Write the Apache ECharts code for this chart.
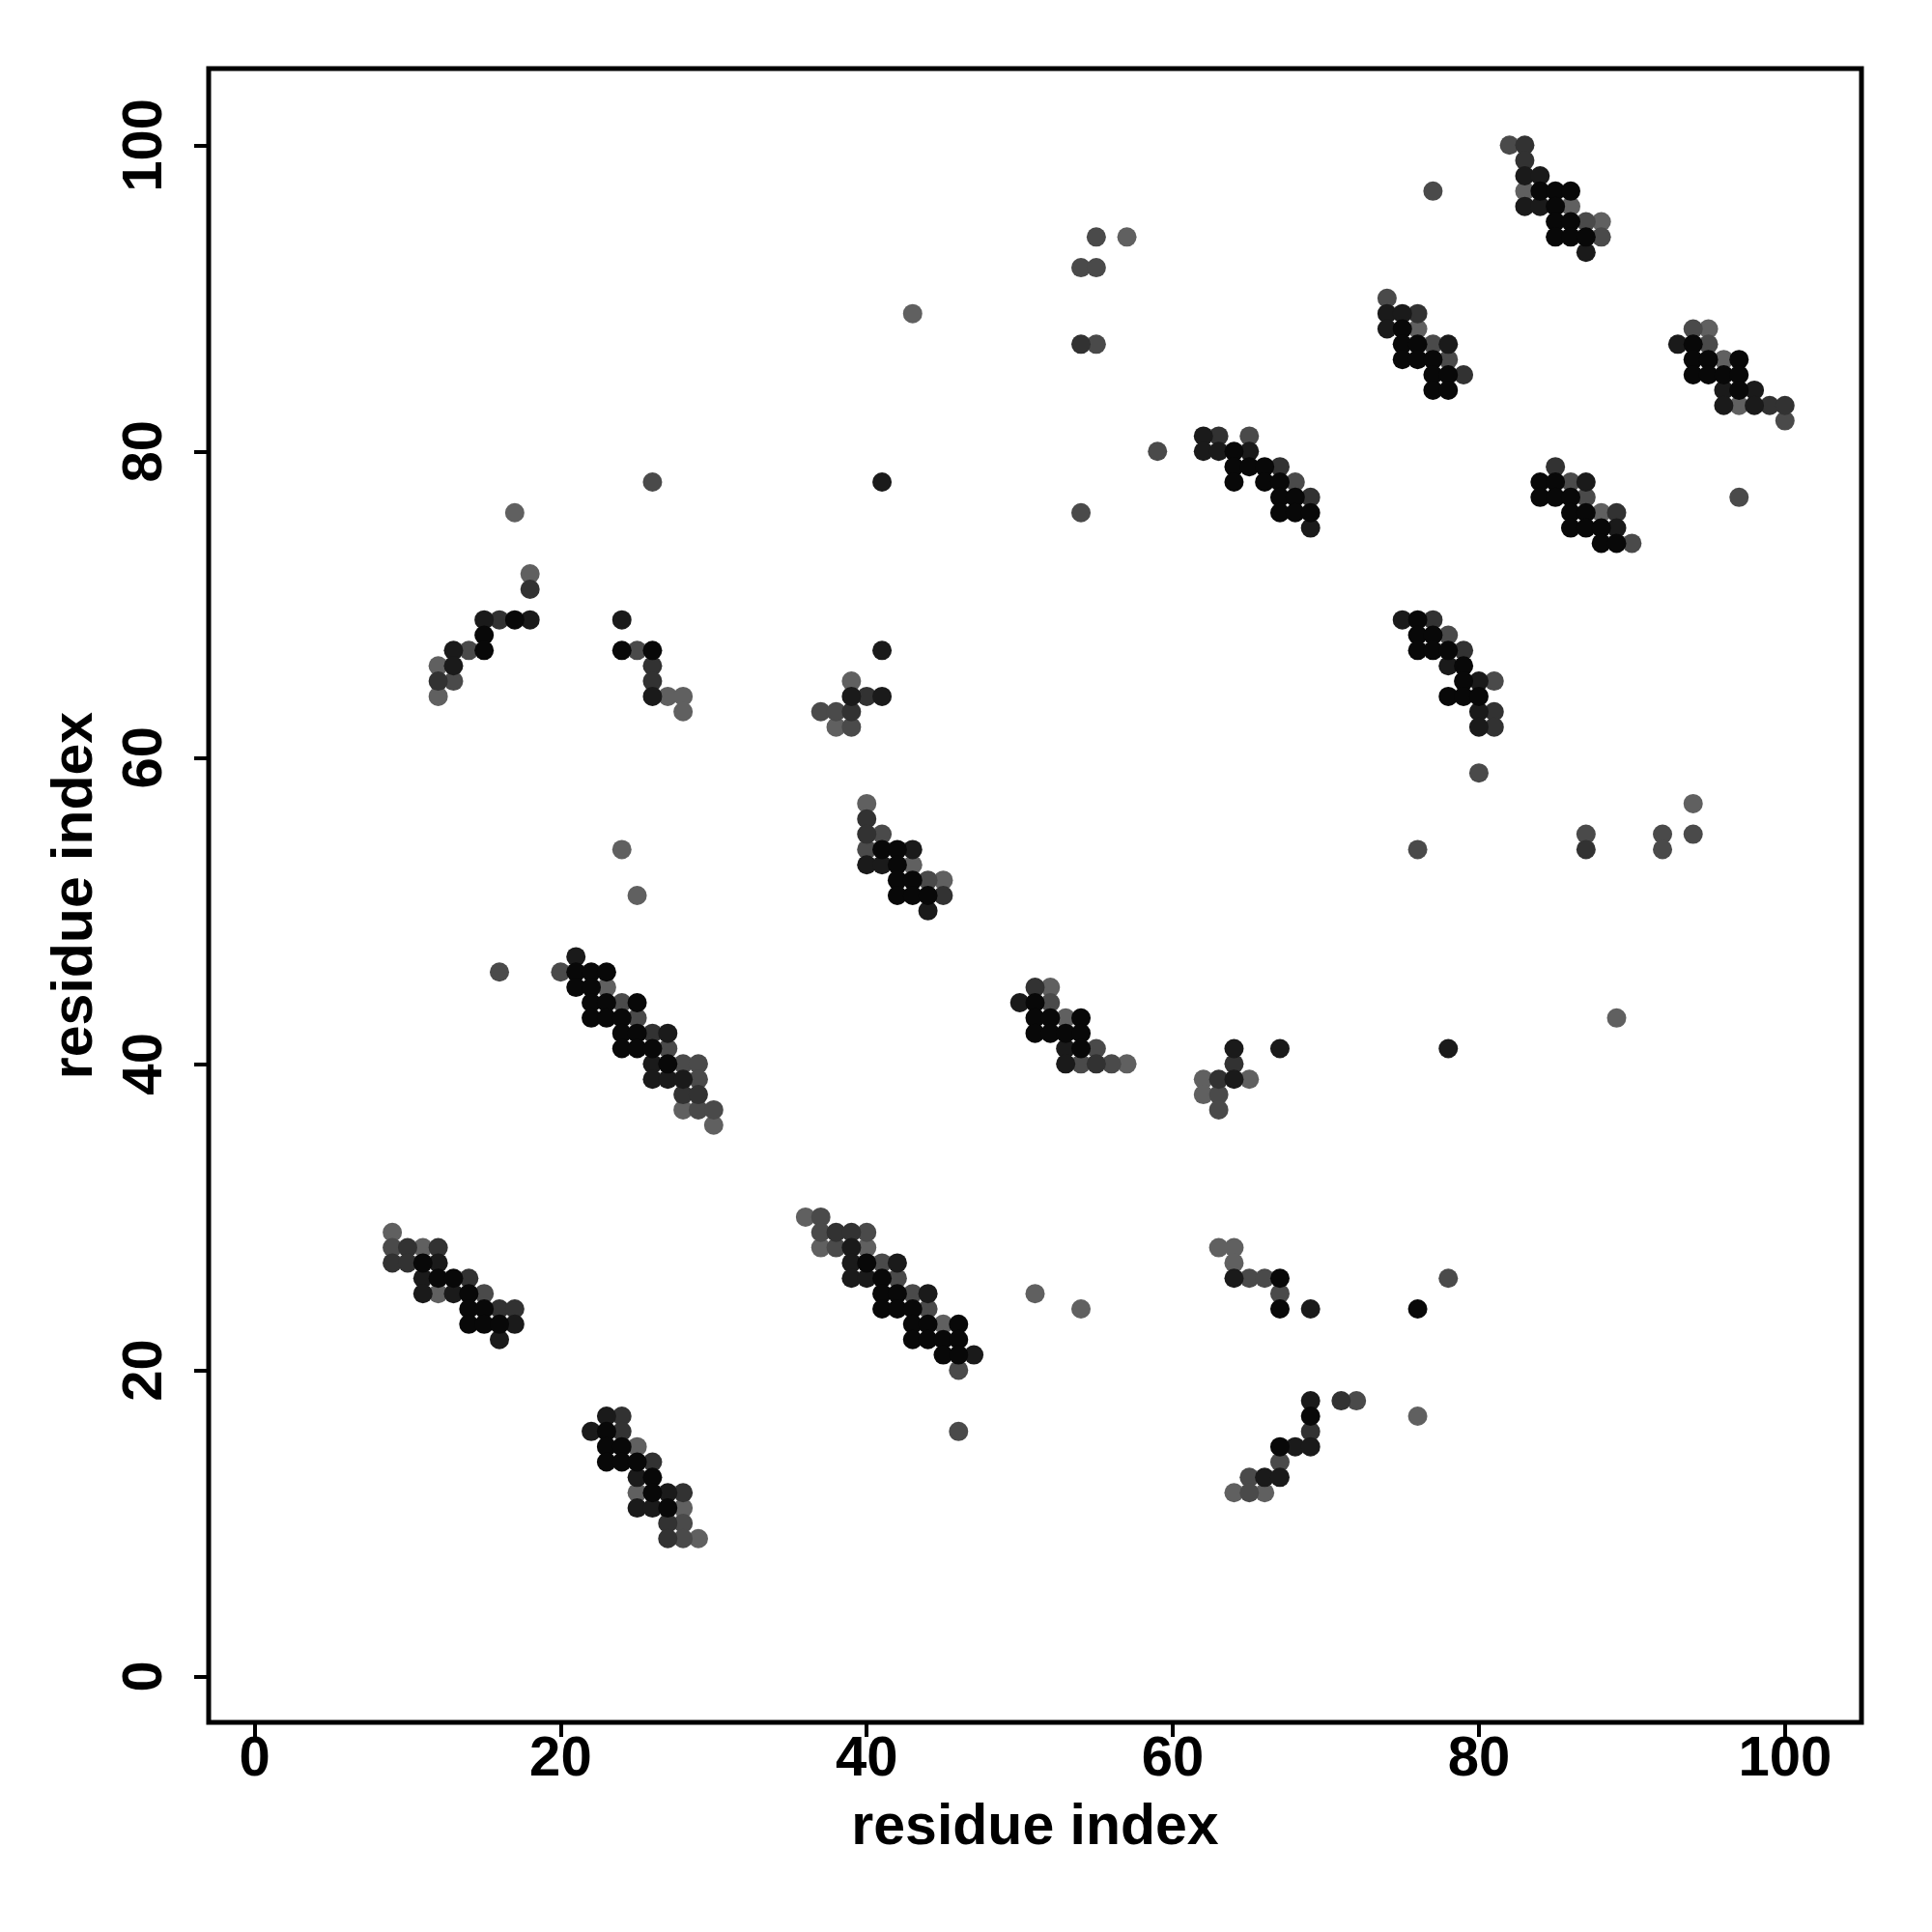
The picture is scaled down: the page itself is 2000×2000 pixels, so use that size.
<!DOCTYPE html>
<html>
<head>
<meta charset="utf-8">
<script src="https://cdn.jsdelivr.net/npm/echarts@6/dist/echarts.min.js"></script>
<style>html,body{margin:0;padding:0;background:#fff;}#c{width:2000px;height:2000px;}</style>
</head>
<body>
<div id="c"></div>
<script>
// tick labels
const tickValues = [0, 20, 40, 60, 80, 100];
const xTitle = 'residue index';
const yTitle = 'residue index';

// contact points grouped by shade (1 = lightest gray ... 5 = near black)
const level1 = [[9,29],[11,28],[12,25],[25,15],[25,12],[28,11],[29,9],[36,30],[37,28],[40,28],[45,23],[51,25],[54,24],
[63,28],[64,28],[64,27],[64,12],[66,12],[76,17],[23,45],[28,37],[30,36],[25,51],[24,54],[52,45],[53,43],[57,40],
[62,39],[65,39],[62,38],[89,43],[40,57],[43,53],[45,52],[94,57],[39,65],[38,62],[18,72],[12,66],[12,64],[17,76],
[27,64],[28,64],[28,63],[43,89],[57,94],[88,76],[76,88],[83,97],[86,96],[88,95],[95,88],[96,86],[97,83]];

const level2 = [[9,28],[15,25],[28,10],[28,9],[37,30],[37,29],[40,29],[38,28],[41,27],[42,26],[43,25],[44,24],[46,20],[46,16],
[65,26],[66,26],[67,25],[72,18],[67,14],[65,13],[65,12],[78,26],[20,46],[24,44],[25,43],[27,41],[28,40],[29,40],[29,39],
[29,37],[30,37],[16,46],[52,44],[55,41],[54,40],[56,40],[63,38],[63,37],[41,55],[40,54],[44,52],[76,54],[87,55],[92,55],
[92,54],[94,55],[80,59],[37,63],[38,63],[39,62],[14,67],[13,65],[26,78],[25,67],[78,68],[81,65],[65,81],[68,78],[59,80],
[54,76],[54,92],[55,92],[55,94],[55,87],[86,78],[87,77],[90,74],[97,77],[74,90],[77,87],[78,86],[77,97],[82,100],[87,95],
[88,94],[94,88],[95,87],[100,82]];

const level3 = [[10,28],[12,28],[9,27],[10,27],[14,26],[16,24],[17,24],[24,17],[24,16],[26,14],[28,12],[27,10],[27,9],
[38,29],[39,29],[71,18],[69,16],[26,42],[28,38],[29,38],[51,45],[55,40],[63,39],[64,40],[40,56],[40,55],[45,51],[87,54],
[40,64],[39,63],[18,71],[16,69],[12,65],[26,66],[26,65],[77,69],[79,67],[81,63],[81,62],[63,81],[67,79],[69,77],[54,87],
[85,79],[89,76],[76,89],[79,85],[83,100],[83,99],[99,83],[100,83]];

const level4 = [[12,27],[11,26],[11,25],[13,25],[17,23],[16,22],[23,17],[22,16],[25,13],[27,12],[25,11],[26,11],
[39,28],[39,27],[42,27],[39,26],[40,26],[44,25],[47,21],[64,26],[69,24],[69,18],[68,15],[69,15],[66,13],[67,13],
[21,47],[27,42],[26,40],[26,39],[27,39],[28,39],[50,44],[53,41],[53,40],[64,41],[67,41],[64,39],[78,41],
[43,54],[40,53],[41,53],[44,50],[41,67],[39,64],[41,64],[15,69],[18,69],[13,67],[13,66],[24,69],[26,64],
[75,69],[78,66],[80,65],[80,63],[80,62],[62,81],[62,80],[63,80],[65,80],[69,75],[41,78],[87,78],[89,75],
[74,89],[75,89],[74,88],[78,87],[83,98],[84,98],[83,96],[84,96],[87,93],[93,87],[96,84],[98,84],[96,83],[98,83]];

const level5 = [[11,27],[12,26],[13,26],[14,25],[14,24],[15,24],[14,23],[15,23],[16,23],
[23,16],[23,15],[24,15],[23,14],[24,14],[25,14],[26,13],[26,12],[27,11],
[40,27],[41,26],[41,25],[42,25],[41,24],[42,24],[43,24],[43,23],[44,23],[46,23],[43,22],[44,22],[45,22],[46,22],[45,21],[46,21],
[67,26],[67,24],[69,17],[67,15],[76,24],
[21,46],[22,46],[23,46],[21,45],[22,45],[22,44],[23,44],[25,44],[22,43],[23,43],[24,43],[24,42],[25,42],[24,41],[25,41],[26,41],[27,40],
[51,44],[51,43],[52,43],[54,43],[51,42],[52,42],[53,42],[54,42],[54,41],
[41,54],[42,54],[42,53],[42,52],[43,52],[42,51],[43,51],[44,51],
[17,69],[15,68],[15,67],[24,67],[26,67],
[76,69],[76,68],[77,68],[76,67],[77,67],[78,67],[79,66],[79,65],[78,64],[79,64],[80,64],
[64,80],[64,79],[65,79],[66,79],[64,78],[66,78],[67,78],[67,77],[68,77],[67,76],[68,76],[69,76],
[84,78],[85,78],[84,77],[85,77],[86,77],[86,76],[87,76],[86,75],[87,75],[88,75],[88,74],[89,74],
[75,88],[75,87],[76,87],[75,86],[76,86],[77,86],[77,85],[78,85],[77,84],[78,84],
[84,97],[85,97],[86,97],[85,96],[85,95],[86,95],[85,94],[86,94],[87,94],
[94,87],[94,86],[95,86],[97,86],[94,85],[95,85],[96,85],[97,85],[97,84]];

const levels = [level1, level2, level3, level4, level5];
const shades = ['#606060', '#4a4a4a', '#323232', '#1a1a1a', '#080808'];

const FONT = '"Liberation Sans", Arial, Helvetica, sans-serif';
const chart = echarts.init(document.getElementById('c'), null, {renderer: 'canvas'});

function axisCommon(isY) {
  return {
    type: 'value',
    min: -3,
    max: 105,
    splitLine: {show: false},
    axisLine: {show: false, onZero: false},
    axisTick: {show: true, customValues: tickValues, length: 15, inside: false, lineStyle: {color: '#000', width: 4}},
    axisLabel: {
      customValues: tickValues,
      color: '#000', fontFamily: FONT, fontWeight: 'bold', fontSize: 58,
      margin: isY ? 36 : 10,
      rotate: isY ? 90 : 0
    },
    name: isY ? yTitle : xTitle,
    nameLocation: 'middle',
    nameGap: isY ? 108 : 80,
    nameTextStyle: {color: '#000', fontFamily: FONT, fontWeight: 'bold', fontSize: 59}
  };
}

chart.setOption({
  animation: false,
  backgroundColor: '#fff',
  grid: {show: true, left: 216, top: 71, width: 1711, height: 1712, borderColor: '#000', borderWidth: 5, backgroundColor: 'transparent'},
  xAxis: axisCommon(false),
  yAxis: axisCommon(true),
  series: levels.map((pts, i) => ({
    type: 'scatter',
    data: pts,
    symbol: 'circle',
    symbolSize: 20,
    itemStyle: {color: shades[i], opacity: 1},
    emphasis: {disabled: true},
    silent: true,
    z: 2 + i
  }))
});
</script>
</body>
</html>
